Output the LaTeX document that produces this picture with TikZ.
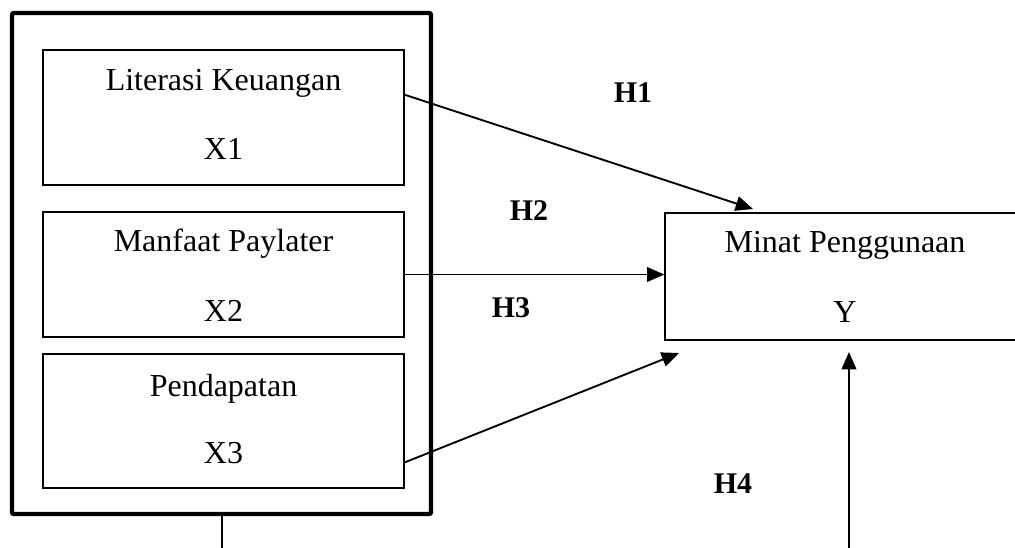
\documentclass[tikz,border=0pt]{standalone}
\usepackage{fontspec}
\setmainfont{Liberation Serif}
\usetikzlibrary{arrows.meta,fit,calc}
\begin{document}
\begin{tikzpicture}[x=0.75pt,y=-0.75pt,
  varbox/.style={draw, line width=1pt, inner sep=0pt},
  outerbox/.style={draw, line width=3.3pt, rounded corners=1.5pt, inner sep=0pt},
  lbl/.style={anchor=base, inner sep=0pt, font=\fontsize{24pt}{28pt}\selectfont},
  hyp/.style={anchor=base, inner sep=0pt, font=\fontsize{22.5pt}{26pt}\selectfont\bfseries},
  conn/.style={line width=1.4pt, -{Triangle[length=13pt,width=11pt]}},
  plain/.style={line width=1.4pt}]
\useasboundingbox (0,0) rectangle (1015,547);
\clip (0,0) rectangle (1015,547);
% outer frame
\node[outerbox, fit={(12,13) (431,514)}] (outer) {};
% variable boxes
\node[varbox, fit={(43,50) (404,185)}] (b1) {};
\node[varbox, fit={(43,212) (404,337)}] (b2) {};
\node[varbox, fit={(43,354) (404,488)}] (b3) {};
\node[varbox, fit={(665,213) (1030,340)}] (Y) {};
% texts
\node[lbl] (t1) at (223.5,90) {Literasi Keuangan};
\node[lbl] (t1b) at (223.5,159) {X1};
\node[lbl] (t2) at (223.5,251) {Manfaat Paylater};
\node[lbl] (t2b) at (223.5,321) {X2};
\node[lbl] (t3) at (223.5,396) {Pendapatan};
\node[lbl] (t3b) at (223.5,463) {X3};
\node[lbl] (ty) at (845,252) {Minat Penggunaan};
\node[lbl] (tyb) at (845,322) {Y};
% hypothesis labels
\node[hyp] (h1) at (633,102) {H1};
\node[hyp] (h2) at (529,220) {H2};
\node[hyp] (h3) at (511,317) {H3};
\node[hyp] (h4) at (733,493) {H4};
% connector end points
\coordinate (s1) at ($(b1.north east)!0.333!(b1.south east)$);
\coordinate (e1) at (753,209);
\coordinate (s3) at ($(b3.north east)!0.806!(b3.south east)$);
\coordinate (e3) at (679,353);
\coordinate (s4) at (849,560);
\coordinate (e4) at (849,352);
\coordinate (d1) at (222,560);
% connectors
\draw[conn] (s1) -- (e1);
\draw[conn] (b2.east) -- (b2.east -| Y.west);
\draw[conn] (s3) -- (e3);
\draw[conn] (s4) -- (e4);
\draw[plain] (outer.south -| d1) -- (d1);
\end{tikzpicture}
\end{document}
